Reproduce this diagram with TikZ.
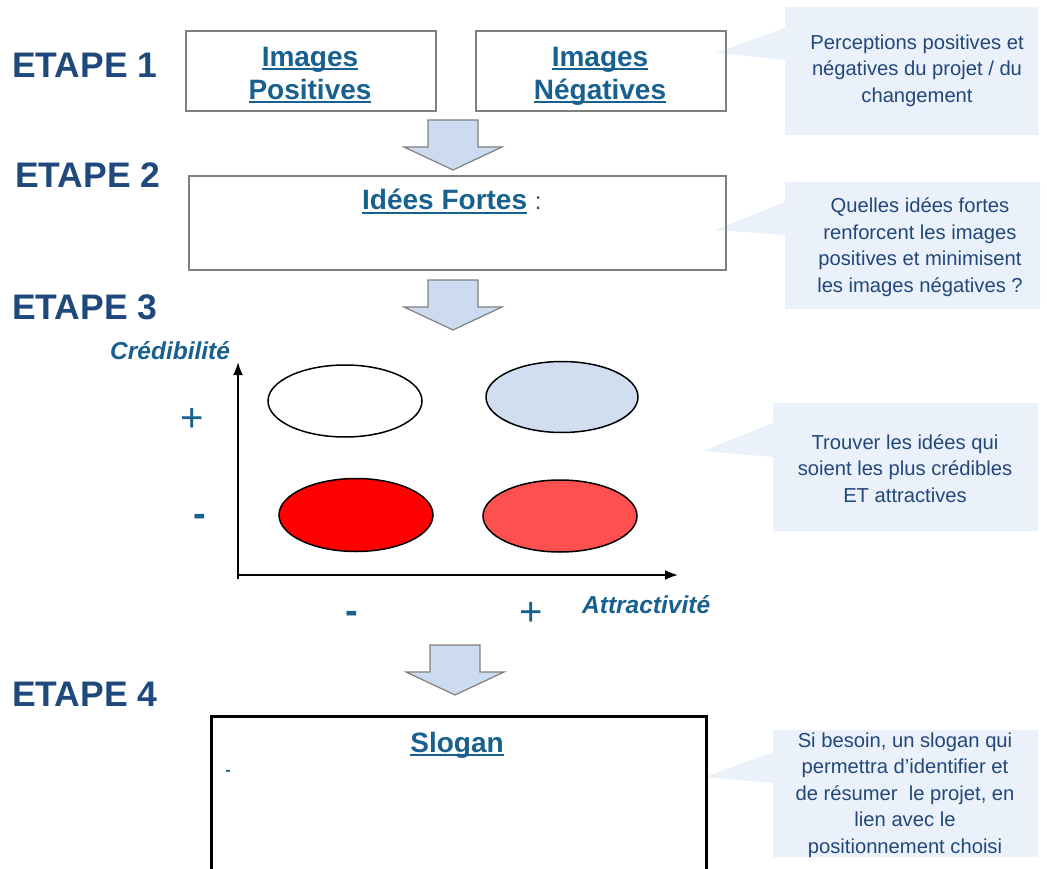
\documentclass[tikz,border=0pt]{standalone}
\usepackage{fontspec}
\setmainfont{Liberation Sans}
\usetikzlibrary{arrows.meta,shapes.geometric}
\definecolor{etape}{HTML}{1F497D}
\definecolor{lbl}{HTML}{17608F}
\definecolor{callfill}{HTML}{EAF1FA}
\definecolor{calltext}{HTML}{22477A}
\definecolor{arrfill}{HTML}{CCDBEF}
\definecolor{boxgray}{HTML}{808080}
\definecolor{ellblue}{HTML}{D0DEF0}
\definecolor{ellred}{HTML}{FF0000}
\definecolor{ellpink}{HTML}{FF5050}
\newcommand\myul[1]{\setbox0\hbox{#1}\rlap{\color{lbl}\rule[-4pt]{\wd0}{2.2pt}}\box0\relax}
\begin{document}
\begin{tikzpicture}[x=1pt,y=-1pt,
  etapetxt/.style={anchor=base west, inner sep=0, text=etape, font=\bfseries\fontsize{35.5}{40}\selectfont},
  imgbox/.style={draw=boxgray, line width=2pt, anchor=north west, inner sep=0},
  slogbox/.style={draw=black, line width=2.5pt, anchor=north west, inner sep=0},
  lbltxt/.style={text=lbl, font=\bfseries\fontsize{28}{33}\selectfont, align=center, inner sep=0},
  callout/.style={fill=callfill},
  calltxt/.style={text=calltext, font=\fontsize{20.2}{26.5}\selectfont, align=center, inner sep=0},
  blockarrow/.style={fill=arrfill, draw=boxgray, line width=1.2pt, line join=miter},
  axisline/.style={line width=2pt, -{Latex[length=13pt,width=10pt]}},
  quad/.style={ellipse, draw=black, line width=1.5pt, inner sep=0, minimum width=154, minimum height=72},
  signtxt/.style={text=lbl, font=\fontsize{40}{40}\selectfont, inner sep=0},
  minustxt/.style={text=lbl, font=\bfseries\fontsize{38}{38}\selectfont, inner sep=0},
  axlabel/.style={text=lbl, font=\bfseries\itshape\fontsize{24.5}{28}\selectfont, inner sep=0}
]
\useasboundingbox (0,0) rectangle (1047,869);

% callouts (drawn first, boxes on top)
\path[callout] (785,7) -- (1038,7) -- (1038,135) -- (785,135) -- (785,60) -- (715,53) -- (785,28) -- cycle;
\path[callout] (785,182) -- (1040,182) -- (1040,309) -- (785,309) -- (785,235) -- (715,230) -- (785,202) -- cycle;
\path[callout] (773,403) -- (1038,403) -- (1038,531) -- (773,531) -- (773,457) -- (703,451) -- (773,423) -- cycle;
\path[callout] (773,730) -- (1038,730) -- (1038,857) -- (773,857) -- (773,783) -- (705,777) -- (773,752) -- cycle;
\node[calltxt] (c1) at (917,70.5) {Perceptions positives et\\négatives du projet / du\\changement};
\node[calltxt] (c2) at (920,247) {Quelles idées fortes\\renforcent les images\\positives et minimisent\\les images négatives ?};
\node[calltxt] (c3) at (905,468.5) {Trouver les idées qui\\soient les plus crédibles\\ET attractives};
\node[calltxt] (c4) at (905,795) {Si besoin, un slogan qui\\permettra d’identifier et\\de résumer\ \ le projet, en\\lien avec le\\positionnement choisi};

% step labels
\node[etapetxt] (e1) at (12,78) {ETAPE 1};
\node[etapetxt] (e2) at (15,188) {ETAPE 2};
\node[etapetxt] (e3) at (12,319) {ETAPE 3};
\node[etapetxt] (e4) at (12,706) {ETAPE 4};

% step 1
\node[imgbox, minimum width=250, minimum height=80] (pos) at (185,30) {};
\node[imgbox, minimum width=250, minimum height=80] (neg) at (475,30) {};
\node[lbltxt, anchor=north] (post) at (310,47) {\myul{Images}\\\myul{Positives}};
\node[lbltxt, anchor=north] (negt) at (600,47) {\myul{Images}\\\myul{Négatives}};

% step 2
\node[imgbox, minimum width=537, minimum height=94] (idees) at (188,175) {};
\node[lbltxt, anchor=base west] (ideest) at (362,210) {\myul{Idées Fortes}\ {\mdseries\color{calltext}\fontsize{24}{24}\selectfont :}};

% block arrows
\foreach \cx/\cy in {453/120, 453/280, 455/645}
  \draw[blockarrow] (\cx-25,\cy) -- ++(50,0) -- ++(0,27) -- ++(24,0) -- (\cx,\cy+50) -- (\cx-49,\cy+27) -- ++(24,0) -- cycle;

% step 3 chart
\coordinate (ytop) at (238,362);
\coordinate (xend) at (678,575);
\coordinate (ybot) at (238,579);
\coordinate (xbeg) at (237,575);
\draw[axisline] (ybot) -- (ytop);
\draw[axisline] (xbeg) -- (xend);
\node[quad, fill=white] (tl) at (345,401) {};
\node[quad, fill=ellblue, minimum width=152, minimum height=71] (tr) at (562,397) {};
\node[quad, fill=ellred, minimum height=73] (bl) at (356,515) {};
\node[quad, fill=ellpink] (br) at (560,516) {};
\node[signtxt] (yp) at (192.5,420) {+};
\node[minustxt] (ym) at (199.5,520) {-};
\node[minustxt] (xm) at (352,617) {-};
\node[signtxt] (xp) at (531.5,614) {+};
\node[axlabel, anchor=base west] (ylab) at (110,359) {Crédibilité};
\node[axlabel, anchor=base west] (xlab) at (582,613) {Attractivité};

% step 4
\node[slogbox, minimum width=495, minimum height=170] (slog) at (210,715) {};
\node[lbltxt, anchor=base] (slogt) at (457,752) {\myul{Slogan}};
\node[text=lbl, font=\bfseries\fontsize{16}{16}\selectfont, inner sep=0] (dash) at (228,773) {-};
\end{tikzpicture}
\end{document}
